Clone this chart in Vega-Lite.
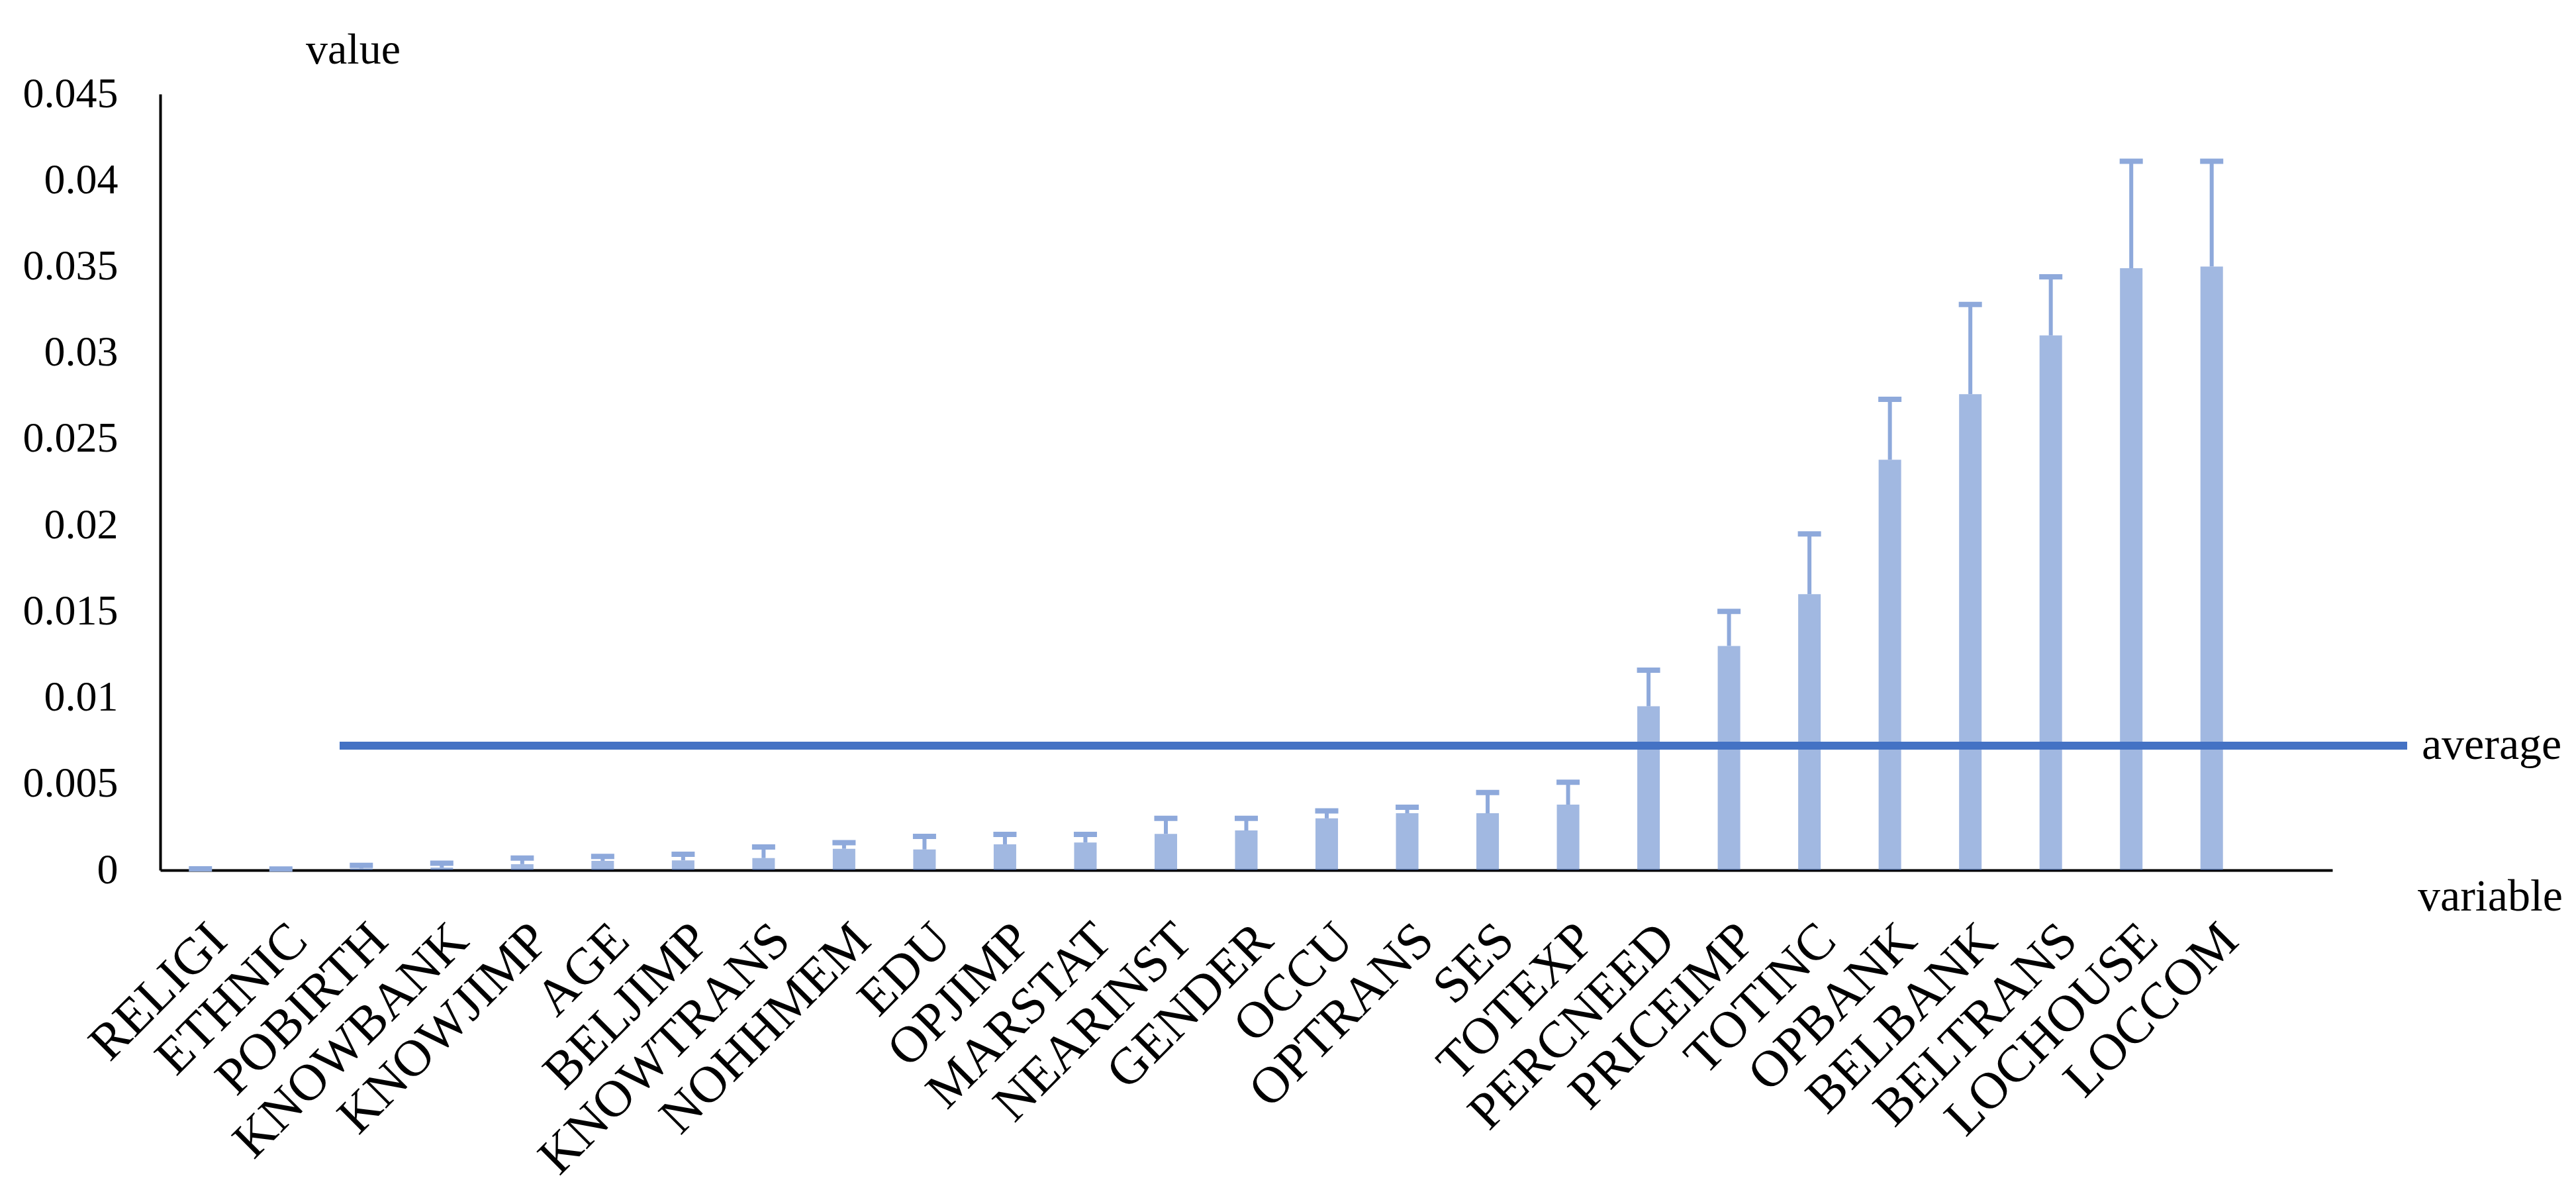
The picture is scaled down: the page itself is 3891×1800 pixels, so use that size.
{
  "$schema": "https://vega.github.io/schema/vega-lite/v6.json",
  "description": "Variable importance with error bars and average line",
  "width": 3281,
  "height": 1172,
  "autosize": {"type": "none"},
  "padding": {"left": 242, "top": 142, "right": 368, "bottom": 486},
  "background": "white",
  "config": {
    "view": {"stroke": null},
    "font": "Liberation Serif"
  },
  "datasets": {
    "vars": [
      {"variable": "RELIGI", "value": 0.00002, "upper": 0.00008},
      {"variable": "ETHNIC", "value": 0.00002, "upper": 0.00007},
      {"variable": "POBIRTH", "value": 0.0001, "upper": 0.00028},
      {"variable": "KNOWBANK", "value": 0.00015, "upper": 0.0004},
      {"variable": "KNOWJIMP", "value": 0.00035, "upper": 0.0007},
      {"variable": "AGE", "value": 0.00054, "upper": 0.0008},
      {"variable": "BELJIMP", "value": 0.00057, "upper": 0.00092},
      {"variable": "KNOWTRANS", "value": 0.0007, "upper": 0.00134},
      {"variable": "NOHHMEM", "value": 0.00124, "upper": 0.00159},
      {"variable": "EDU", "value": 0.0012, "upper": 0.00196},
      {"variable": "OPJIMP", "value": 0.0015, "upper": 0.00207},
      {"variable": "MARSTAT", "value": 0.0016, "upper": 0.00207},
      {"variable": "NEARINST", "value": 0.0021, "upper": 0.003},
      {"variable": "GENDER", "value": 0.0023, "upper": 0.003},
      {"variable": "OCCU", "value": 0.003, "upper": 0.00344},
      {"variable": "OPTRANS", "value": 0.0033, "upper": 0.00365},
      {"variable": "SES", "value": 0.0033, "upper": 0.0045},
      {"variable": "TOTEXP", "value": 0.0038, "upper": 0.0051},
      {"variable": "PERCNEED", "value": 0.0095, "upper": 0.0116},
      {"variable": "PRICEIMP", "value": 0.013, "upper": 0.015},
      {"variable": "TOTINC", "value": 0.016, "upper": 0.0195},
      {"variable": "OPBANK", "value": 0.0238, "upper": 0.0273},
      {"variable": "BELBANK", "value": 0.0276, "upper": 0.0328},
      {"variable": "BELTRANS", "value": 0.031, "upper": 0.0344},
      {"variable": "LOCHOUSE", "value": 0.0349, "upper": 0.0411},
      {"variable": "LOCCOM", "value": 0.035, "upper": 0.0411}
    ],
    "avg": [
      {"start": 2.23, "end": 27.93, "label_pos": 28.11, "average": 0.00722, "label": "average"}
    ]
  },
  "layer": [
    {
      "data": {"name": "vars"},
      "encoding": {
        "x": {
          "field": "variable",
          "type": "nominal",
          "sort": null,
          "scale": {
            "domain": ["RELIGI", "ETHNIC", "POBIRTH", "KNOWBANK", "KNOWJIMP", "AGE", "BELJIMP", "KNOWTRANS", "NOHHMEM", "EDU", "OPJIMP", "MARSTAT", "NEARINST", "GENDER", "OCCU", "OPTRANS", "SES", "TOTEXP", "PERCNEED", "PRICEIMP", "TOTINC", "OPBANK", "BELBANK", "BELTRANS", "LOCHOUSE", "LOCCOM", "_"],
            "paddingInner": 0.72,
            "paddingOuter": 0.36
          },
          "axis": {
            "title": "variable",
            "titleX": 3519,
            "titleY": 40,
            "titleAlign": "center",
            "titleBaseline": "middle",
            "titleFontSize": 68,
            "titleFontWeight": "normal",
            "titleColor": "black",
            "labelExpr": "datum.value == '_' ? '' : datum.value",
            "labelAngle": -45,
            "labelAlign": "right",
            "labelBaseline": "top",
            "labelFontSize": 78,
            "labelColor": "black",
            "labelPadding": 66,
            "labelOverlap": false,
            "labelLimit": 0,
            "ticks": false,
            "domainColor": "black",
            "domainWidth": 4
          }
        },
        "y": {
          "type": "quantitative",
          "scale": {"domain": [0, 0.045], "nice": false, "zero": true},
          "axis": {
            "title": "value",
            "titleAngle": 0,
            "titleX": 291,
            "titleY": -67,
            "titleAlign": "center",
            "titleBaseline": "middle",
            "titleFontSize": 66,
            "titleFontWeight": "normal",
            "titleColor": "black",
            "values": [0, 0.005, 0.01, 0.015, 0.02, 0.025, 0.03, 0.035, 0.04, 0.045],
            "format": ".3~f",
            "labelFontSize": 64,
            "labelColor": "black",
            "labelPadding": 64,
            "ticks": false,
            "grid": false,
            "domainColor": "black",
            "domainWidth": 4
          }
        }
      },
      "layer": [
        {
          "mark": {"type": "bar", "color": "#4472C4", "fillOpacity": 0.5},
          "encoding": {"y": {"field": "value"}}
        },
        {
          "mark": {"type": "rule", "color": "#8EA9DB", "strokeWidth": 6},
          "encoding": {"y": {"field": "value"}, "y2": {"field": "upper"}}
        },
        {
          "mark": {"type": "tick", "color": "#8EA9DB", "thickness": 8, "size": 35, "opacity": 1},
          "encoding": {"y": {"field": "upper"}}
        }
      ]
    },
    {
      "data": {"name": "avg"},
      "layer": [
        {
          "mark": {"type": "rule", "color": "#4472C4", "strokeWidth": 12},
          "encoding": {
            "x": {"field": "start", "type": "quantitative", "scale": {"domain": [0, 27], "nice": false, "zero": false}, "axis": null},
            "x2": {"field": "end"},
            "y": {"field": "average", "type": "quantitative"}
          }
        },
        {
          "mark": {"type": "text", "align": "left", "baseline": "middle", "fontSize": 68, "color": "black"},
          "encoding": {
            "x": {"field": "label_pos", "type": "quantitative"},
            "y": {"field": "average", "type": "quantitative"},
            "text": {"field": "label"}
          }
        }
      ]
    }
  ],
  "resolve": {"scale": {"x": "independent"}, "axis": {"x": "independent"}}
}
